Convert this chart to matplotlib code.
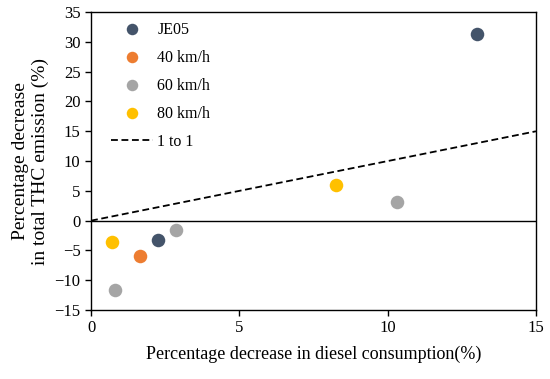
import matplotlib
matplotlib.use('Agg')
from matplotlib import pyplot as plt

plt.rcParams['font.family'] = 'Liberation Serif'

labels = ['JE05', '40 km/h', '60 km/h', '80 km/h']
colors = ['#44546A', '#ED7D31', '#A5A5A5', '#FFC000']
x_vals = [[13.0, 2.26], [1.64], [10.31, 2.85, 0.80], [8.26, 0.70]]
y_vals = [[31.4, -3.26], [-5.94], [3.2, -1.5, -11.7], [6.0, -3.65]]
line_x = [0, 15]
line_y = [0, 15]

fig = plt.figure(figsize=(5.5, 3.79), dpi=100)
ax = fig.add_axes([0.1655, 0.182, 0.809, 0.786])

for lab, c, xs, ys in zip(labels, colors, x_vals, y_vals):
    ax.scatter(xs, ys, s=95, color=c, label=lab, zorder=3, linewidths=0)
ax.plot(line_x, line_y, 'k--', lw=1.3, label='1 to 1', dashes=(3.8, 2))
ax.axhline(0, color='black', lw=1)

ax.set_xlim(0, 15)
ax.set_ylim(-15, 35)
ax.set_xticks([0, 5, 10, 15])
ax.set_yticks(range(-15, 36, 5))
ax.tick_params(direction='out', length=4, labelsize=12, width=1)
for s in ax.spines.values():
    s.set_linewidth(1)

ax.set_xlabel('Percentage decrease in diesel consumption(%)', fontsize=13, labelpad=7)
ax.set_ylabel('Percentage decrease\nin total THC emission (%)', fontsize=14, labelpad=4)

ax.legend(loc='upper left', bbox_to_anchor=(0.045, 0.968), frameon=False,
          fontsize=11.5, labelspacing=0.75, handlelength=2.6, handletextpad=0.3,
          borderaxespad=0, borderpad=0, markerscale=0.85, scatterpoints=1)

fig.savefig('out.png', dpi=100)
